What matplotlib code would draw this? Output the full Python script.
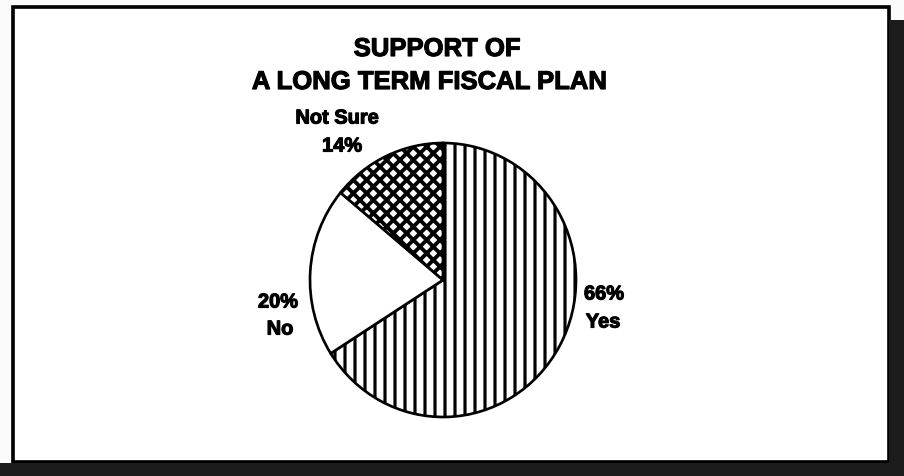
import matplotlib
matplotlib.use('Agg')

import matplotlib.pyplot as plt
import matplotlib.patheffects as pe
from matplotlib.patches import Rectangle

# survey answers, clockwise from twelve o'clock
answers = ['Yes', 'No', 'Not Sure']
shares = [66, 20, 14]
hatches = ['||', '', 'xxx']

title_lines = ['SUPPORT OF', 'A LONG TERM FISCAL PLAN']

DPI = 120
W, H = 904, 476

plt.rcParams['font.family'] = ['Liberation Sans', 'DejaVu Sans']
plt.rcParams['hatch.linewidth'] = 1.9
plt.rcParams['hatch.color'] = 'black'

fig = plt.figure(figsize=(W / DPI, H / DPI), dpi=DPI)
fig.patch.set_facecolor('#fbfbfb')


def fx(px):
    return px / W


def fy(py):
    # pixel rows are counted from the top
    return 1 - py / H


# framed panel and the dark strip along the bottom / right edge
fig.add_artist(Rectangle((fx(13), fy(462)), fx(889 - 13), (462 - 7) / H,
                         transform=fig.transFigure, facecolor='white',
                         edgecolor='black', linewidth=2.2, zorder=-10))
fig.add_artist(Rectangle((0, 0), 1, (H - 463) / H, transform=fig.transFigure,
                         facecolor='#1c1c1c', edgecolor='none', zorder=-9))
fig.add_artist(Rectangle((fx(889), 0), fx(W - 889), (H - 20) / H,
                         transform=fig.transFigure, facecolor='#1c1c1c',
                         edgecolor='none', zorder=-9))

# pie axes sized in pixels around the centre
cx, cy, rx, ry = 443, 280, 133, 137
ax = fig.add_axes([fx(cx - rx), fy(cy + ry), 2 * rx / W, 2 * ry / H])
ax.patch.set_visible(False)
wedges, _ = ax.pie(shares, startangle=90, counterclock=False,
                   colors=['white'] * 3,
                   wedgeprops=dict(edgecolor='black', linewidth=1.6))
for w, h in zip(wedges, hatches):
    w.set_hatch(h)
    w.set_clip_on(False)
# the cross-hatch is printed with heavier lines than the stripes
if hasattr(wedges[2], 'set_hatch_linewidth'):
    wedges[2].set_hatch_linewidth(2.3)
ax.set_xlim(-1, 1)
ax.set_ylim(-1, 1)
ax.set_aspect('auto')
ax.axis('off')

# heavier strokes, closer to the old laser-printed lettering
heavy = [pe.withStroke(linewidth=0.7, foreground='black')]

fig.text(fx(437), fy(49), title_lines[0], ha='center', va='center',
         fontsize=15.4, fontweight='bold', path_effects=heavy)
fig.text(fx(429), fy(82), title_lines[1], ha='center', va='center',
         fontsize=15.4, fontweight='bold', path_effects=heavy)

lab = dict(ha='center', va='center', fontsize=12, fontweight='bold',
           path_effects=heavy)
fig.text(fx(337), fy(118), answers[2], **lab)
fig.text(fx(342), fy(146), '%d%%' % shares[2], **lab)
fig.text(fx(604), fy(294), '%d%%' % shares[0], **lab)
fig.text(fx(603), fy(322), answers[0], **lab)
fig.text(fx(278), fy(302), '%d%%' % shares[1], **lab)
fig.text(fx(280), fy(329), answers[1], **lab)

fig.savefig('out.png', dpi=DPI, facecolor=fig.get_facecolor())
